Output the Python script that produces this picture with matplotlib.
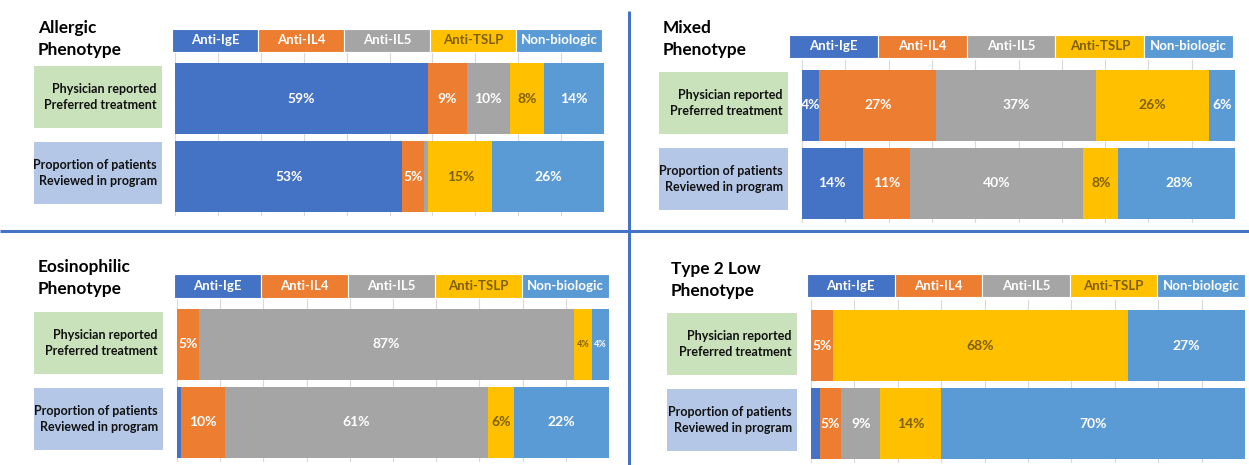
import matplotlib

matplotlib.use("Agg")
import matplotlib.pyplot as plt
from matplotlib.patches import Rectangle

plt.rcParams["font.family"] = ["Lato", "DejaVu Sans"]

# ---- data -------------------------------------------------------------
categories = ["Anti-IgE", "Anti-IL4", "Anti-IL5", "Anti-TSLP", "Non-biologic"]
row_labels = ["Physician reported\nPreferred treatment",
              "Proportion of patients\nReviewed in program"]
phenotypes = ["Allergic\nPhenotype", "Mixed\nPhenotype",
              "Eosinophilic\nPhenotype", "Type 2 Low\nPhenotype"]

allergic_physician = [59, 9, 10, 8, 14]
allergic_reviewed = [53, 5, 1, 15, 26]
mixed_physician = [4, 27, 37, 26, 6]
mixed_reviewed = [14, 11, 40, 8, 28]
eos_physician = [0, 5, 87, 4, 4]
eos_reviewed = [1, 10, 61, 6, 22]
t2low_physician = [0, 5, 0, 68, 27]
t2low_reviewed = [2, 5, 9, 14, 70]

panel_rows = [
    (allergic_physician, allergic_reviewed),
    (mixed_physician, mixed_reviewed),
    (eos_physician, eos_reviewed),
    (t2low_physician, t2low_reviewed),
]

# ---- style ------------------------------------------------------------
COLORS = ["#4472C4", "#ED7D31", "#A5A5A5", "#FFC000", "#5B9BD5"]
TEXT_COLORS = ["white", "white", "white", "#7F6000", "white"]
BOX_COLORS = ["#C9E2BB", "#B4C7E7"]
DIVIDER = "#4472C4"

W, H = 1249, 465

# pixel layout per panel: title xy, legend rect, bar x-range + top, label box x-range + top
LAYOUT = [
    dict(title=(38, 20), legend=(172, 29, 602, 52), bars=(175, 604, 63), boxes=(34, 162, 66)),
    dict(title=(663, 20), legend=(789, 35, 1233, 58), bars=(802, 1235, 70), boxes=(659, 788, 72)),
    dict(title=(38, 259), legend=(174, 274, 609, 298), bars=(177, 609, 309), boxes=(34, 163, 312)),
    dict(title=(671, 261), legend=(807, 274, 1245, 297), bars=(811, 1245, 310), boxes=(667, 797, 313)),
]
SMALL_LABEL_ROWS = {(2, 0)}
ROW_STEP = 78   # px between bar tops
BAR_H = 71      # px
BOX_H = 62
BOX_STEP = 76


def px_axes(fig, x0, y0, x1, y1):
    return fig.add_axes([x0 / W, 1 - y1 / H, (x1 - x0) / W, (y1 - y0) / H])


fig = plt.figure(figsize=(W / 100, H / 100), dpi=100)

# background layer in pixel coordinates
bg = fig.add_axes([0, 0, 1, 1])
bg.set_xlim(0, W)
bg.set_ylim(H, 0)
bg.axis("off")
bg.plot([629.5, 629.5], [11, H], color=DIVIDER, lw=2.2, solid_capstyle="butt")
bg.plot([0, W], [231, 231], color=DIVIDER, lw=2.2, solid_capstyle="butt")

for p, lay in enumerate(LAYOUT):
    tx, ty = lay["title"]
    bg.text(tx, ty, phenotypes[p], ha="left", va="top", fontsize=12.4,
            fontweight="bold", color="black", linespacing=1.45)

    # row label boxes
    bx0, bx1, btop = lay["boxes"]
    for r, lab in enumerate(row_labels):
        y0 = btop + r * BOX_STEP
        bg.add_patch(Rectangle((bx0, y0), bx1 - bx0, BOX_H,
                               facecolor=BOX_COLORS[r], edgecolor="none"))
        bg.text(bx1 - 5, y0 + BOX_H / 2, lab, ha="right", va="center",
                fontsize=9.0, fontweight="bold", color="#111111",
                linespacing=1.4)

    # category legend strip
    lx0, ly0, lx1, ly1 = lay["legend"]
    lax = px_axes(fig, lx0, ly0, lx1, ly1)
    for i, cat in enumerate(categories):
        lax.barh(0, 1, left=i, height=1, color=COLORS[i],
                 edgecolor="white", lw=0.8)
        lax.text(i + 0.5, 0, cat, ha="center", va="center", fontsize=9.5,
                 fontweight="bold", color=TEXT_COLORS[i])
    lax.set_xlim(0, len(categories))
    lax.set_ylim(-0.5, 0.5)
    lax.axis("off")

    # stacked bars
    x0, x1, top = lay["bars"]
    ax = px_axes(fig, x0, top - 10, x1, top + ROW_STEP + BAR_H + 4)
    h = BAR_H / ROW_STEP
    for r, vals in enumerate(panel_rows[p]):
        left = 0
        for i, v in enumerate(vals):
            if v > 0:
                ax.barh(r, v, left=left, height=h, color=COLORS[i], lw=0)
                if v >= 4:
                    small = (p, r) in SMALL_LABEL_ROWS and v < 5
                    ax.text(left + v / 2, r, f"{v}%", ha="center", va="center",
                            fontsize=6.5 if small else 10, fontweight="bold",
                            color=TEXT_COLORS[i])
            left += v
    ax.set_xlim(0, 100)
    ax.set_ylim(1 + (BAR_H / 2 + 4) / ROW_STEP, -(BAR_H / 2 + 10) / ROW_STEP)
    ax.set_xticks(range(0, 101, 10))
    ax.set_yticks([])
    ax.tick_params(length=0, labelbottom=False)
    ax.grid(axis="x", color="#D9D9D9", lw=0.8)
    ax.set_axisbelow(True)
    for s in ax.spines.values():
        s.set_visible(False)

fig.savefig("out.png", dpi=100)
plt.close(fig)
